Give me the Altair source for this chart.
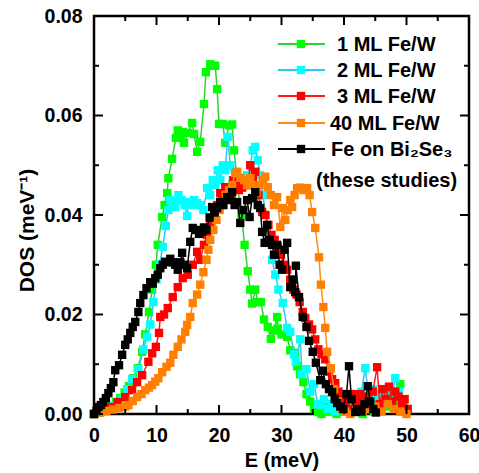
import altair as alt
import pandas as pd

# ---- series: (E in meV, DOS in 1/meV) ----
names = ["1 ML Fe/W", "2 ML Fe/W", "3 ML Fe/W", "40 ML Fe/W", "Fe on Bi₂Se₃"]
marker_colors = ["#00FF00", "#00FFFF", "#FF0000", "#FF8000", "#000000"]
line_colors = ["#2BD62B", "#2EC8F2", "#FF1A1A", "#FF8C1A", "#000000"]

ml1 = [(0.0,0.0000),(0.7,0.0003),(1.4,0.0006),(2.1,0.0010),(2.8,0.0016),(3.5,0.0024),(4.2,0.0032),
       (4.9,0.0043),(5.6,0.0056),(6.3,0.0072),(7.0,0.0092),(7.7,0.0125),(8.2,0.0160),(8.8,0.0205),
       (9.3,0.0250),(9.9,0.0300),(10.2,0.0340),(10.9,0.0396),(11.3,0.0420),(11.7,0.0444),(11.9,0.0474),
       (12.5,0.0513),(13.1,0.0555),(13.4,0.0570),(13.8,0.0560),(14.2,0.0567),(14.4,0.0545),(15.0,0.0565),
       (15.7,0.0585),(16.0,0.0563),(16.5,0.0527),(17.0,0.0547),(17.6,0.0623),(17.9,0.0687),(18.6,0.0703),
       (19.0,0.0700),(19.4,0.0700),(19.7,0.0653),(20.0,0.0583),(20.6,0.0583),(21.0,0.0545),(21.6,0.0580),
       (22.1,0.0582),(22.4,0.0530),(23.0,0.0455),(23.6,0.0400),(24.1,0.0340),(24.6,0.0287),(25.0,0.0250),
       (25.3,0.0222),(25.8,0.0250),(26.2,0.0225),(26.7,0.0225),(27.2,0.0190),(27.8,0.0175),(28.3,0.0151),
       (28.8,0.0168),(29.3,0.0195),(29.4,0.0172),(30.0,0.0160),(30.9,0.0155),(31.4,0.0128),(32.2,0.0123),
       (32.5,0.0096),(33.0,0.0080),(33.5,0.0064),(34.0,0.0040),(34.6,0.0025),(35.2,0.0010),(35.8,0.0004),
       (36.4,0.0000),(37.0,0.0015),(37.6,0.0005),(38.2,0.0010),(38.8,0.0000),(39.4,0.0020),(40.0,0.0005),
       (40.6,0.0010),(41.2,0.0030),(41.8,0.0005),(42.4,0.0015),(43.0,0.0000),(43.6,0.0025),(44.2,0.0010),
       (44.8,0.0005),(45.4,0.0030),(46.0,0.0010),(46.6,0.0040),(47.2,0.0015),(47.8,0.0020),(48.4,0.0045),
       (49.0,0.0060),(49.6,0.0020),(50.2,0.0010)]

ml2 = [(0.0,0.0000),(0.8,0.0003),(1.6,0.0006),(2.4,0.0010),(3.2,0.0016),(3.9,0.0022),(4.5,0.0030),
       (5.3,0.0050),(6.1,0.0070),(7.1,0.0090),(7.9,0.0130),(8.5,0.0155),(9.0,0.0180),(9.5,0.0225),
       (10.0,0.0270),(10.5,0.0300),(11.0,0.0336),(11.5,0.0378),(11.9,0.0410),(12.2,0.0430),(12.7,0.0425),
       (13.0,0.0416),(13.5,0.0440),(14.0,0.0430),(14.5,0.0420),(14.9,0.0398),(15.1,0.0426),(15.6,0.0420),
       (16.0,0.0430),(16.5,0.0424),(17.0,0.0420),(17.5,0.0410),(18.1,0.0454),(18.6,0.0440),(19.0,0.0470),
       (19.4,0.0460),(19.8,0.0490),(20.2,0.0470),(20.6,0.0500),(21.0,0.0490),(21.4,0.0557),(21.8,0.0500),
       (22.2,0.0470),(22.6,0.0480),(23.0,0.0455),(23.5,0.0470),(24.0,0.0460),(24.5,0.0480),(25.0,0.0500),
       (25.4,0.0530),(25.8,0.0537),(26.2,0.0510),(26.6,0.0480),(27.0,0.0440),(27.5,0.0400),(28.0,0.0350),
       (28.5,0.0310),(29.0,0.0280),(29.5,0.0250),(30.2,0.0223),(30.9,0.0173),(31.4,0.0165),(32.0,0.0120),
       (32.3,0.0105),(33.0,0.0150),(33.3,0.0080),(34.0,0.0090),(34.6,0.0045),(35.2,0.0060),(35.8,0.0020),
       (36.2,0.0018),(36.8,0.0030),(37.4,0.0010),(38.0,0.0020),(38.6,0.0005),(39.2,0.0030),(39.8,0.0015),
       (40.4,0.0040),(41.0,0.0010),(41.6,0.0035),(42.2,0.0020),(42.8,0.0045),(43.4,0.0092),(44.0,0.0030),
       (44.6,0.0050),(45.2,0.0025),(45.8,0.0040),(46.4,0.0020),(47.0,0.0050),(47.6,0.0030),(48.2,0.0072),
       (48.8,0.0045),(49.4,0.0025),(50.0,0.0010)]

ml3 = [(0.0,0.0000),(0.9,0.0004),(1.8,0.0008),(2.9,0.0014),(3.8,0.0024),(5.0,0.0034),(6.1,0.0048),
       (6.9,0.0064),(7.7,0.0078),(8.7,0.0105),(9.3,0.0122),(9.9,0.0135),(10.4,0.0163),(10.6,0.0195),
       (11.2,0.0200),(11.8,0.0213),(12.6,0.0235),(13.4,0.0255),(14.2,0.0273),(15.0,0.0280),(15.8,0.0300),
       (16.5,0.0326),(17.0,0.0310),(17.6,0.0340),(18.1,0.0360),(18.6,0.0386),(19.2,0.0400),(19.7,0.0420),
       (20.2,0.0444),(20.6,0.0440),(21.0,0.0456),(21.5,0.0450),(22.0,0.0440),(22.3,0.0470),(22.8,0.0460),
       (23.2,0.0450),(23.7,0.0455),(24.2,0.0470),(24.6,0.0460),(25.0,0.0500),(25.4,0.0470),(25.8,0.0487),
       (26.3,0.0440),(26.9,0.0406),(27.4,0.0400),(27.9,0.0380),(28.4,0.0360),(28.9,0.0350),(29.4,0.0336),
       (29.9,0.0320),(30.4,0.0300),(30.9,0.0290),(31.4,0.0270),(31.9,0.0250),(32.4,0.0240),(32.9,0.0225),
       (33.4,0.0205),(33.8,0.0193),(34.4,0.0180),(34.9,0.0170),(35.4,0.0150),(35.9,0.0130),(36.4,0.0120),
       (37.0,0.0110),(37.6,0.0085),(38.1,0.0070),(38.6,0.0062),(39.1,0.0045),(39.6,0.0030),(40.1,0.0020),
       (40.6,0.0030),(41.1,0.0010),(41.6,0.0040),(42.1,0.0025),(42.6,0.0040),(43.1,0.0015),(43.6,0.0035),
       (44.1,0.0020),(44.6,0.0045),(45.3,0.0094),(45.7,0.0020),(46.2,0.0050),(46.7,0.0030),(47.2,0.0055),
       (47.7,0.0025),(48.2,0.0045),(48.7,0.0035),(49.2,0.0020),(49.7,0.0030),(50.2,0.0010)]

ml40 = [(0.0,0.0000),(1.0,0.0003),(2.0,0.0006),(3.0,0.0009),(4.0,0.0012),(5.0,0.0015),(5.5,0.0018),
        (6.2,0.0026),(6.9,0.0034),(7.6,0.0040),(8.2,0.0048),(8.8,0.0053),(9.3,0.0058),(9.8,0.0065),
        (10.3,0.0072),(10.9,0.0084),(11.6,0.0095),(12.2,0.0103),(12.7,0.0119),(13.4,0.0135),(14.0,0.0150),
        (14.6,0.0165),(14.9,0.0179),(15.4,0.0195),(15.8,0.0223),(16.5,0.0240),(17.0,0.0260),(17.5,0.0285),
        (18.0,0.0310),(18.3,0.0330),(18.6,0.0350),(19.1,0.0370),(19.6,0.0390),(20.1,0.0410),(20.6,0.0420),
        (21.1,0.0440),(21.6,0.0450),(22.1,0.0460),(22.6,0.0484),(22.9,0.0487),(23.4,0.0475),(24.0,0.0470),
        (24.5,0.0460),(25.0,0.0474),(25.5,0.0460),(26.0,0.0445),(26.5,0.0460),(27.0,0.0470),(27.4,0.0477),
        (27.8,0.0456),(28.3,0.0440),(28.8,0.0420),(29.3,0.0436),(29.8,0.0376),(30.2,0.0414),(30.6,0.0390),
        (31.0,0.0410),(31.4,0.0430),(31.7,0.0416),(32.1,0.0440),(32.5,0.0454),(33.0,0.0455),(33.5,0.0450),
        (34.1,0.0454),(34.5,0.0440),(34.9,0.0406),(35.4,0.0374),(36.0,0.0315),(36.3,0.0260),(36.7,0.0215),
        (37.0,0.0173),(37.3,0.0125),(37.9,0.0092),(38.4,0.0050),(39.0,0.0025),(39.6,0.0010),(40.2,0.0005),
        (41.0,0.0000),(42.0,0.0010),(43.0,0.0005),(44.0,0.0010),(45.0,0.0015),(46.0,0.0005),(47.0,0.0020),
        (48.0,0.0010),(49.0,0.0005),(50.0,0.0000)]

bi2se3 = [(0.0,0.0000),(0.4,0.0006),(0.7,0.0014),(1.1,0.0018),(1.5,0.0024),(1.9,0.0032),(2.3,0.0042),
          (2.7,0.0052),(3.1,0.0064),(3.4,0.0088),(4.0,0.0098),(4.5,0.0119),(5.0,0.0139),(5.4,0.0150),
          (5.8,0.0163),(6.2,0.0175),(6.6,0.0185),(7.1,0.0205),(7.4,0.0223),(7.9,0.0239),(8.4,0.0253),
          (9.0,0.0265),(9.4,0.0262),(9.8,0.0273),(10.2,0.0280),(10.6,0.0293),(11.0,0.0300),(11.4,0.0306),
          (11.8,0.0305),(12.2,0.0312),(12.6,0.0305),(13.0,0.0300),(13.4,0.0290),(13.8,0.0305),(14.1,0.0324),
          (14.5,0.0300),(14.9,0.0293),(15.4,0.0346),(15.8,0.0374),(16.3,0.0370),(16.8,0.0362),(17.3,0.0366),
          (17.6,0.0375),(18.0,0.0370),(18.5,0.0395),(18.9,0.0416),(19.3,0.0405),(19.7,0.0414),(20.2,0.0426),
          (20.7,0.0420),(21.3,0.0436),(21.7,0.0430),(22.1,0.0446),(22.5,0.0420),(22.9,0.0426),(23.4,0.0384),
          (23.9,0.0410),(24.5,0.0430),(24.9,0.0396),(25.3,0.0434),(25.8,0.0446),(26.2,0.0420),(26.6,0.0414),
          (26.9,0.0366),(27.3,0.0344),(27.7,0.0380),(28.1,0.0350),(28.5,0.0340),(28.8,0.0320),(29.3,0.0340),
          (29.7,0.0300),(30.1,0.0290),(30.5,0.0330),(30.9,0.0344),(31.4,0.0255),(31.8,0.0270),(32.2,0.0245),
          (32.3,0.0298),(32.8,0.0235),(33.4,0.0195),(34.0,0.0175),(34.4,0.0147),(35.0,0.0125),(35.5,0.0103),
          (36.2,0.0068),(36.6,0.0087),(37.1,0.0060),(37.6,0.0050),(38.1,0.0044),(38.5,0.0030),(38.9,0.0022),
          (39.4,0.0015),(39.9,0.0010),(40.4,0.0040),(40.8,0.0096),(41.2,0.0030),(41.8,0.0004),(42.3,0.0010),
          (42.8,0.0005),(43.3,0.0020),(43.8,0.0056),(44.2,0.0025),(44.7,0.0010),(45.1,0.0003)]

series_points = [ml1, ml2, ml3, ml40, bi2se3]

x_major = [0, 10, 20, 30, 40, 50, 60]
x_minor = [5, 15, 25, 35, 45, 55]
y_major = [0.00, 0.02, 0.04, 0.06, 0.08]
y_minor = [0.01, 0.03, 0.05, 0.07]

# ---- layout ----
W, H = 375, 398
FONT = "Liberation Sans"
MAJ, MIN = 9, 5
MSIZE = 70

xs = alt.Scale(domain=[0, 60], nice=False, zero=False)
ys = alt.Scale(domain=[0, 0.08], nice=False, zero=False)

x_axis = alt.Axis(values=x_major, ticks=False, tickSize=0, domain=False, grid=False,
                  labelFont=FONT, labelFontWeight="bold", labelFontSize=19.5, labelColor="black",
                  labelBaseline="alphabetic", labelPadding=27, labelFlush=False,
                  title="E (meV)", titleFont=FONT, titleFontWeight="bold", titleFontSize=20,
                  titleColor="black", titleBaseline="alphabetic", titleY=52)
y_axis = alt.Axis(values=y_major, format=".2f", ticks=False, tickSize=0, domain=False, grid=False,
                  labelFont=FONT, labelFontWeight="bold", labelFontSize=19.5, labelColor="black",
                  labelPadding=12, labelFlush=False,
                  title="DOS (meV⁻¹)", titleFont=FONT, titleFontWeight="bold", titleFontSize=21,
                  titleColor="black", titleAngle=270, titleBaseline="alphabetic",
                  titleAlign="center", titleX=-61, titleY=214)

layers = []
for i, (name, pts) in enumerate(zip(names, series_points)):
    d = pd.DataFrame(pts, columns=["E", "DOS"])
    d["idx"] = range(len(d))
    enc_x = alt.X("E:Q", scale=xs, axis=x_axis if i == 0 else alt.Undefined)
    enc_y = alt.Y("DOS:Q", scale=ys, axis=y_axis if i == 0 else alt.Undefined)
    base = alt.Chart(d).encode(x=enc_x, y=enc_y)
    layers.append(base.mark_line(color=line_colors[i], strokeWidth=1.5).encode(order="idx:Q"))
    layers.append(base.mark_square(color=marker_colors[i], size=MSIZE, opacity=1))

# inward ticks on all four sides
def xticks(vals, length):
    t = pd.DataFrame({"E": vals})
    b = alt.Chart(t).mark_rule(color="black", strokeWidth=2)
    return [b.encode(x=alt.X("E:Q", scale=xs), y=alt.value(H), y2=alt.value(H - length)),
            b.encode(x=alt.X("E:Q", scale=xs), y=alt.value(0), y2=alt.value(length))]

def yticks(vals, length):
    t = pd.DataFrame({"DOS": vals})
    b = alt.Chart(t).mark_rule(color="black", strokeWidth=2)
    return [b.encode(y=alt.Y("DOS:Q", scale=ys), x=alt.value(0), x2=alt.value(length)),
            b.encode(y=alt.Y("DOS:Q", scale=ys), x=alt.value(W), x2=alt.value(W - length))]

layers += xticks(x_major, MAJ) + xticks(x_minor, MIN) + yticks(y_major, MAJ) + yticks(y_minor, MIN)

# legend block (top right, inside the frame)
one = pd.DataFrame({"k": [0]})
row_y = [28, 54, 80, 107, 133]
text_x = [243, 243, 243, 236, 237]
for i, name in enumerate(names):
    yy = row_y[i]
    layers.append(alt.Chart(one).mark_rule(color=line_colors[i], strokeWidth=1.8)
                  .encode(x=alt.value(184), x2=alt.value(231), y=alt.value(yy)))
    layers.append(alt.Chart(one).mark_square(color=marker_colors[i], size=MSIZE, opacity=1)
                  .encode(x=alt.value(207), y=alt.value(yy)))
    layers.append(alt.Chart(one).mark_text(text=name, font=FONT, fontWeight="bold", fontSize=20,
                                           align="left", baseline="alphabetic", color="black")
                  .encode(x=alt.value(text_x[i]), y=alt.value(yy + 6.5)))
layers.append(alt.Chart(one).mark_text(text="(these studies)", font=FONT, fontWeight="bold",
                                       fontSize=20, align="left", baseline="alphabetic", color="black")
              .encode(x=alt.value(222), y=alt.value(171)))

chart = (
    alt.layer(*layers)
    .properties(width=W, height=H,
                autosize=alt.AutoSizeParams(type="none"),
                padding={"left": 94, "top": 16, "right": 10, "bottom": 59},
                background="white")
    .configure_view(stroke="black", strokeWidth=2.5)
)

chart.save("out.html", embed_options={"renderer": "svg", "actions": False})
